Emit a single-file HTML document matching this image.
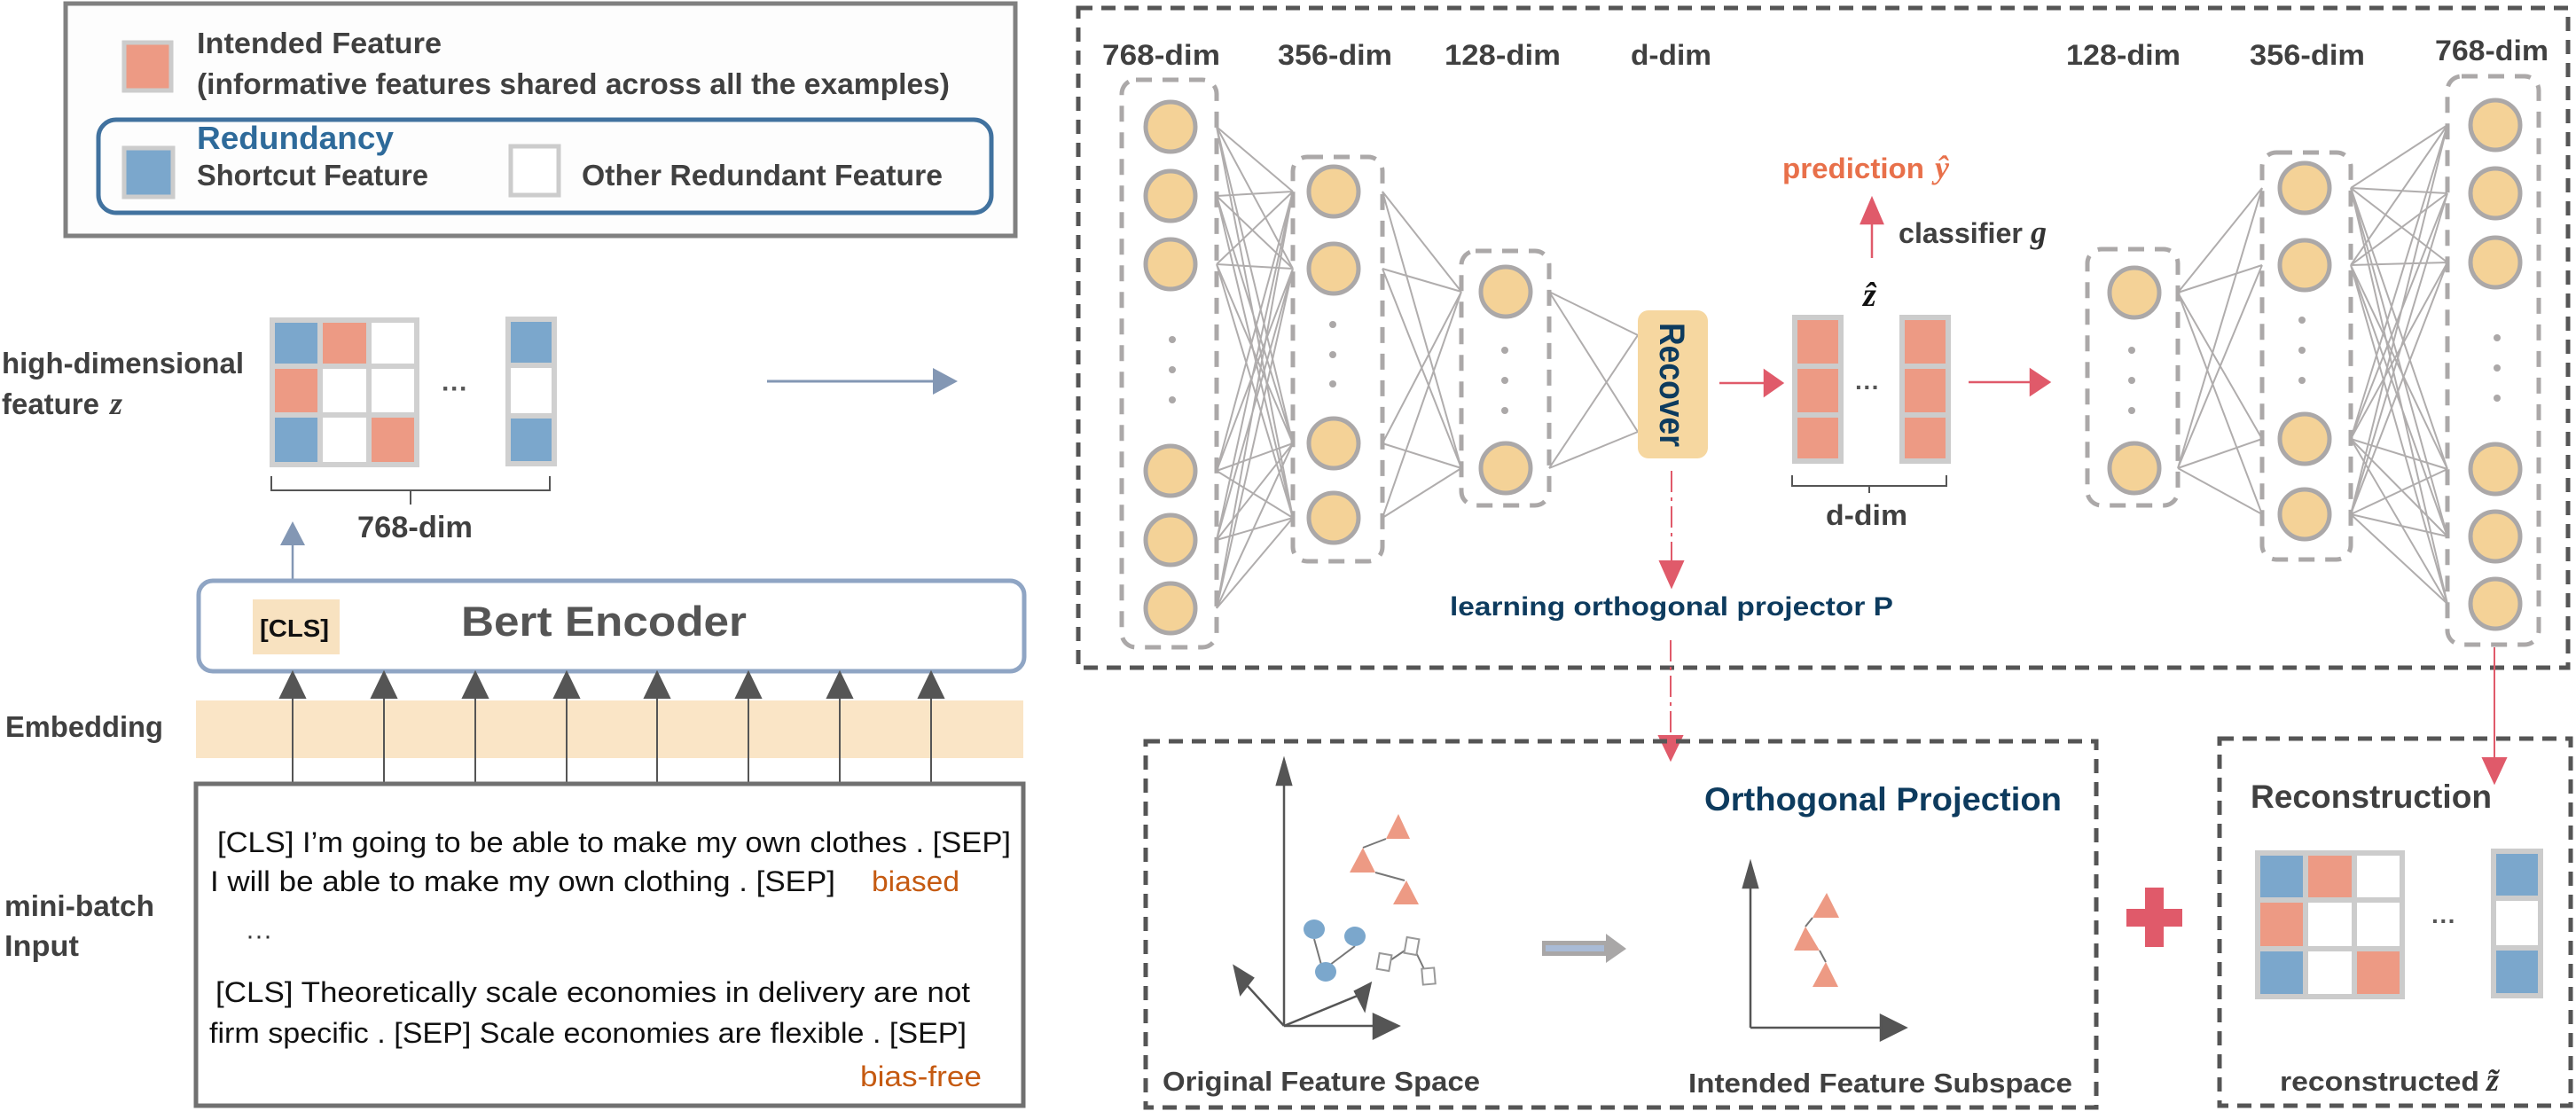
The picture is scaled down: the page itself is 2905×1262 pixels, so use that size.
<!DOCTYPE html>
<html><head><meta charset="utf-8"><style>
html,body{margin:0;padding:0;background:#fff;}
svg{display:block;}
text{font-family:"Liberation Sans",sans-serif;font-weight:bold;fill:#404040;}
</style></head><body>
<svg width="2905" height="1262" viewBox="0 0 2905 1262" xmlns="http://www.w3.org/2000/svg">

<!-- LEGEND -->
<rect x="74" y="4" width="1071" height="262" fill="#fdfdfd" stroke="#808080" stroke-width="5"/>
<rect x="140" y="48" width="53" height="54" fill="#ED9A84" stroke="#cccccc" stroke-width="5"/>
<text x="222" y="60" font-size="33" textLength="276" lengthAdjust="spacingAndGlyphs">Intended Feature</text>
<text x="222" y="106" font-size="33" textLength="849" lengthAdjust="spacingAndGlyphs">(informative features shared across all the examples)</text>
<rect x="111" y="135" width="1007" height="105" rx="20" fill="none" stroke="#41729F" stroke-width="5"/>
<text x="222" y="168" font-size="36" style="fill:#2E6A9A" textLength="222" lengthAdjust="spacingAndGlyphs">Redundancy</text>
<rect x="140" y="167" width="55" height="55" fill="#7BA7CC" stroke="#cccccc" stroke-width="5"/>
<text x="222" y="209" font-size="33" textLength="261" lengthAdjust="spacingAndGlyphs">Shortcut Feature</text>
<rect x="576" y="165" width="54" height="55" fill="#fff" stroke="#cccccc" stroke-width="5"/>
<text x="656" y="209" font-size="33" textLength="407" lengthAdjust="spacingAndGlyphs">Other Redundant Feature</text>

<!-- high-dim feature -->
<text x="2" y="421" font-size="33" textLength="273" lengthAdjust="spacingAndGlyphs">high-dimensional</text>
<text x="2" y="467" font-size="33" textLength="110" lengthAdjust="spacingAndGlyphs">feature</text>
<text x="124" y="467" font-size="36" font-style="italic" style="font-family:'Liberation Serif',serif">z</text>
<g stroke="#d0d0d0" stroke-width="6">
<rect x="307" y="361" width="54" height="52" fill="#7BA7CC"/><rect x="361" y="361" width="55" height="52" fill="#ED9A84"/><rect x="416" y="361" width="54" height="52" fill="#fff"/>
<rect x="307" y="413" width="54" height="55" fill="#ED9A84"/><rect x="361" y="413" width="55" height="55" fill="#fff"/><rect x="416" y="413" width="54" height="55" fill="#fff"/>
<rect x="307" y="468" width="54" height="56" fill="#7BA7CC"/><rect x="361" y="468" width="55" height="56" fill="#fff"/><rect x="416" y="468" width="54" height="56" fill="#ED9A84"/>
<rect x="573" y="360" width="52" height="52" fill="#7BA7CC"/><rect x="573" y="412" width="52" height="57" fill="#fff"/><rect x="573" y="469" width="52" height="54" fill="#7BA7CC"/>
</g>
<text x="498" y="448" font-size="30" style="fill:#555">···</text>
<path d="M306,537 V553 H463 V569 M463,553 H620 V537" fill="none" stroke="#555" stroke-width="2"/>
<text x="403" y="606" font-size="34" textLength="130" lengthAdjust="spacingAndGlyphs">768-dim</text>
<line x1="330" y1="667" x2="330" y2="600" stroke="#8397B4" stroke-width="2.5"/>
<path d="M316,615L330,588L344,615z" fill="#8397B4"/>
<line x1="865" y1="430" x2="1055" y2="430" stroke="#8397B4" stroke-width="3"/>
<path d="M1052,415L1080,430L1052,445z" fill="#8397B4"/>

<!-- Bert -->
<rect x="224" y="655" width="931" height="102" rx="16" fill="#fff" stroke="#8FA5C4" stroke-width="5"/>
<rect x="285" y="676" width="98" height="62" fill="#F8E2C0"/>
<text x="332" y="718" font-size="28" text-anchor="middle" style="fill:#111" textLength="78" lengthAdjust="spacingAndGlyphs">[CLS]</text>
<text x="520" y="717" font-size="47" style="fill:#555" textLength="322" lengthAdjust="spacingAndGlyphs">Bert  Encoder</text>
<text x="6" y="831" font-size="33" textLength="178" lengthAdjust="spacingAndGlyphs">Embedding</text>
<rect x="221" y="790" width="933" height="65" fill="#FAE5C6"/>
<g stroke="#555" stroke-width="2" fill="#555">
<line x1="330" y1="885" x2="330" y2="780"/><path d="M316,787L330,758L344,787z"/>
<line x1="433" y1="885" x2="433" y2="780"/><path d="M419,787L433,758L447,787z"/>
<line x1="536" y1="885" x2="536" y2="780"/><path d="M522,787L536,758L550,787z"/>
<line x1="639" y1="885" x2="639" y2="780"/><path d="M625,787L639,758L653,787z"/>
<line x1="741" y1="885" x2="741" y2="780"/><path d="M727,787L741,758L755,787z"/>
<line x1="844" y1="885" x2="844" y2="780"/><path d="M830,787L844,758L858,787z"/>
<line x1="947" y1="885" x2="947" y2="780"/><path d="M933,787L947,758L961,787z"/>
<line x1="1050" y1="885" x2="1050" y2="780"/><path d="M1036,787L1050,758L1064,787z"/>
</g>
<rect x="221" y="884" width="933" height="363" fill="none" stroke="#707070" stroke-width="5"/>
<text x="245" y="961" font-size="32" style="font-weight:normal;fill:#111" textLength="895" lengthAdjust="spacingAndGlyphs">[CLS] I’m going to be able to make my own clothes . [SEP]</text>
<text x="237" y="1005" font-size="32" style="font-weight:normal;fill:#111" textLength="705" lengthAdjust="spacingAndGlyphs">I will be able to make my own clothing . [SEP]</text>
<text x="983" y="1005" font-size="32" style="font-weight:normal;fill:#C55A11" textLength="99" lengthAdjust="spacingAndGlyphs">biased</text>
<text x="277" y="1065" font-size="30" style="font-weight:normal;fill:#333">···</text>
<text x="243" y="1130" font-size="32" style="font-weight:normal;fill:#111" textLength="851" lengthAdjust="spacingAndGlyphs">[CLS] Theoretically scale economies in delivery are not</text>
<text x="236" y="1176" font-size="32" style="font-weight:normal;fill:#111" textLength="854" lengthAdjust="spacingAndGlyphs">firm specific . [SEP] Scale economies are flexible . [SEP]</text>
<text x="970" y="1225" font-size="32" style="font-weight:normal;fill:#C55A11" textLength="137" lengthAdjust="spacingAndGlyphs">bias-free</text>
<text x="5" y="1033" font-size="33" textLength="169" lengthAdjust="spacingAndGlyphs">mini-batch</text>
<text x="5" y="1078" font-size="33" textLength="84" lengthAdjust="spacingAndGlyphs">Input</text>

<!-- NETWORK BOX -->
<rect x="1216" y="9" width="1680" height="744" fill="none" stroke="#555" stroke-width="5" stroke-dasharray="16 10"/>
<g font-size="32">
<text x="1243" y="73" textLength="133" lengthAdjust="spacingAndGlyphs">768-dim</text>
<text x="1441" y="73" textLength="129" lengthAdjust="spacingAndGlyphs">356-dim</text>
<text x="1629" y="73" textLength="131" lengthAdjust="spacingAndGlyphs">128-dim</text>
<text x="1839" y="73" textLength="91" lengthAdjust="spacingAndGlyphs">d-dim</text>
<text x="2330" y="73" textLength="129" lengthAdjust="spacingAndGlyphs">128-dim</text>
<text x="2537" y="73" textLength="130" lengthAdjust="spacingAndGlyphs">356-dim</text>
<text x="2746" y="68" textLength="128" lengthAdjust="spacingAndGlyphs">768-dim</text>
</g>
<g stroke="#b0adad" stroke-width="2" fill="none">
<path d="M1372,143L1458,216M1372,143L1458,303M1372,143L1458,500M1372,143L1458,584M1372,221L1458,216M1372,221L1458,303M1372,221L1458,500M1372,221L1458,584M1372,298L1458,216M1372,298L1458,303M1372,298L1458,500M1372,298L1458,584M1372,531L1458,216M1372,531L1458,303M1372,531L1458,500M1372,531L1458,584M1372,609L1458,216M1372,609L1458,303M1372,609L1458,500M1372,609L1458,584M1372,686L1458,216M1372,686L1458,303M1372,686L1458,500M1372,686L1458,584"/>
<path d="M1559,216L1648,329M1559,216L1648,528M1559,303L1648,329M1559,303L1648,528M1559,500L1648,329M1559,500L1648,528M1559,584L1648,329M1559,584L1648,528"/>
<path d="M1747,329L1847,378M1747,329L1847,487M1747,528L1847,378M1747,528L1847,487"/>
<path d="M2456,330L2551,212M2456,330L2551,299M2456,330L2551,495M2456,330L2551,580M2456,528L2551,212M2456,528L2551,299M2456,528L2551,495M2456,528L2551,580"/>
<path d="M2651,212L2760,141M2651,212L2760,218M2651,212L2760,296M2651,212L2760,529M2651,212L2760,605M2651,212L2760,681M2651,299L2760,141M2651,299L2760,218M2651,299L2760,296M2651,299L2760,529M2651,299L2760,605M2651,299L2760,681M2651,495L2760,141M2651,495L2760,218M2651,495L2760,296M2651,495L2760,529M2651,495L2760,605M2651,495L2760,681M2651,580L2760,141M2651,580L2760,218M2651,580L2760,296M2651,580L2760,529M2651,580L2760,605M2651,580L2760,681"/>
</g>
<g fill="none" stroke="#aba8a8" stroke-width="5" stroke-dasharray="18 12">
<rect x="1265" y="90" width="107" height="640" rx="16"/>
<rect x="1458" y="177" width="101" height="456" rx="16"/>
<rect x="1648" y="283" width="99" height="287" rx="16"/>
<rect x="2354" y="281" width="102" height="289" rx="16"/>
<rect x="2551" y="172" width="100" height="459" rx="16"/>
<rect x="2760" y="86" width="103" height="641" rx="16"/>
</g>
<g fill="#F4D297" stroke="#aba8a8" stroke-width="5">
<circle cx="1320" cy="143" r="28"/><circle cx="1320" cy="221" r="28"/><circle cx="1320" cy="298" r="28"/><circle cx="1320" cy="531" r="28"/><circle cx="1320" cy="609" r="28"/><circle cx="1320" cy="686" r="28"/>
<circle cx="1504" cy="216" r="28"/><circle cx="1504" cy="303" r="28"/><circle cx="1504" cy="500" r="28"/><circle cx="1504" cy="584" r="28"/>
<circle cx="1698" cy="329" r="28"/><circle cx="1698" cy="528" r="28"/>
<circle cx="2407" cy="330" r="28"/><circle cx="2407" cy="528" r="28"/>
<circle cx="2599" cy="212" r="28"/><circle cx="2599" cy="299" r="28"/><circle cx="2599" cy="495" r="28"/><circle cx="2599" cy="580" r="28"/>
<circle cx="2814" cy="141" r="28"/><circle cx="2814" cy="218" r="28"/><circle cx="2814" cy="296" r="28"/><circle cx="2814" cy="529" r="28"/><circle cx="2814" cy="605" r="28"/><circle cx="2814" cy="681" r="28"/>
</g>
<g fill="#aba8a8">
<circle cx="1322" cy="383" r="4"/><circle cx="1322" cy="417" r="4"/><circle cx="1322" cy="451" r="4"/>
<circle cx="1503" cy="366" r="4"/><circle cx="1503" cy="400" r="4"/><circle cx="1503" cy="433" r="4"/>
<circle cx="1697" cy="395" r="4"/><circle cx="1697" cy="429" r="4"/><circle cx="1697" cy="463" r="4"/>
<circle cx="2404" cy="395" r="4"/><circle cx="2404" cy="429" r="4"/><circle cx="2404" cy="463" r="4"/>
<circle cx="2596" cy="361" r="4"/><circle cx="2596" cy="395" r="4"/><circle cx="2596" cy="429" r="4"/>
<circle cx="2816" cy="381" r="4"/><circle cx="2816" cy="415" r="4"/><circle cx="2816" cy="449" r="4"/>
</g>
<rect x="1847" y="350" width="79" height="167" rx="12" fill="#F6D7A0"/>
<text transform="translate(1872,364) rotate(90)" font-size="40" style="fill:#0D3B5E" textLength="140" lengthAdjust="spacingAndGlyphs">Recover</text>
<g stroke="#E05A6A" stroke-width="2.5" fill="#E05A6A">
<line x1="1939" y1="432" x2="1995" y2="432"/><path d="M1990,418L2010,432L1990,446z"/>
<line x1="2220" y1="431" x2="2295" y2="431"/><path d="M2290,417L2311,431L2290,445z"/>
<line x1="2111" y1="291" x2="2111" y2="240"/><path d="M2099,252L2111,224L2123,252z"/>
</g>
<g stroke="#cccccc" stroke-width="6" fill="#ED9A84">
<rect x="2024" y="358" width="52" height="55"/><rect x="2024" y="413" width="52" height="55"/><rect x="2024" y="468" width="52" height="52"/>
<rect x="2145" y="358" width="52" height="55"/><rect x="2145" y="413" width="52" height="55"/><rect x="2145" y="468" width="52" height="52"/>
</g>
<text x="2092" y="446" font-size="28" style="fill:#555">···</text>
<text x="2101" y="345" font-size="38" font-style="italic" style="font-family:'Liberation Serif',serif;fill:#111">ẑ</text>
<path d="M2021,536V548H2108V556M2108,548H2195V536" fill="none" stroke="#555" stroke-width="2"/>
<text x="2059" y="592" font-size="32" textLength="92" lengthAdjust="spacingAndGlyphs">d-dim</text>
<text x="2141" y="274" font-size="32" textLength="140" lengthAdjust="spacingAndGlyphs">classifier</text>
<text x="2290" y="274" font-size="36" font-style="italic" style="font-family:'Liberation Serif',serif;fill:#333">g</text>
<text x="2010" y="201" font-size="32" style="fill:#E8704A" textLength="160" lengthAdjust="spacingAndGlyphs">prediction</text>
<text x="2182" y="201" font-size="36" font-style="italic" style="font-family:'Liberation Serif',serif;fill:#E8704A">ŷ</text>
<text x="1635" y="694" font-size="30" style="fill:#0D3B5E" textLength="500" lengthAdjust="spacingAndGlyphs">learning orthogonal projector P</text>
<g stroke="#E05A6A" stroke-width="2" fill="#E05A6A">
<line x1="1885" y1="531" x2="1885" y2="640" stroke-dasharray="24 6 4 6"/><path d="M1872,633L1885,662L1898,633z"/>
<line x1="1884" y1="722" x2="1884" y2="835" stroke-dasharray="24 6 4 6"/><path d="M1871,830L1884,857L1897,830z"/>
<line x1="2813" y1="730" x2="2813" y2="860"/><path d="M2800,855L2813,883L2826,855z"/>
</g>

<!-- ORTHO BOX -->
<rect x="1292" y="836" width="1072" height="413" fill="none" stroke="#555" stroke-width="5" stroke-dasharray="16 10"/>
<text x="1922" y="914" font-size="37" style="fill:#0D3B5E" textLength="403" lengthAdjust="spacingAndGlyphs">Orthogonal Projection</text>
<g stroke="#555" stroke-width="2.5" fill="#555">
<line x1="1448" y1="1157" x2="1448" y2="880"/><path d="M1440,885L1448,857L1456,885z"/>
<line x1="1448" y1="1157" x2="1552" y2="1157"/><path d="M1549,1144L1577,1157L1549,1171z"/>
<line x1="1448" y1="1157" x2="1396" y2="1100"/><path d="M1392,1090L1399,1121L1413,1103z"/>
<line x1="1448" y1="1157" x2="1538" y2="1120"/><path d="M1548,1111L1529,1115L1534,1138z" transform="rotate(-15 1540 1120)"/>
<line x1="1974" y1="1159" x2="1974" y2="995"/><path d="M1966,1001L1974,973L1982,1001z"/>
<line x1="1974" y1="1159" x2="2125" y2="1159"/><path d="M2121,1145L2149,1159L2121,1173z"/>
</g>
<g stroke="#777" stroke-width="2" fill="none">
<path d="M1563,946L1537,956M1551,984L1584,993"/>
<path d="M2044,1035L2036,1045M2052,1072L2059,1085"/>
<path d="M1482,1059L1490,1088M1528,1067L1500,1088"/>
<path d="M1593,1066L1565,1085M1593,1066L1607,1095"/>
</g>
<g fill="#ED9A84">
<path d="M1577,918L1563,946L1590,946z"/><path d="M1537,956L1522,984L1551,984z"/><path d="M1586,993L1571,1020L1600,1020z"/>
<path d="M2060,1007L2044,1035L2074,1035z"/><path d="M2036,1045L2023,1072L2052,1072z"/><path d="M2059,1085L2044,1113L2073,1113z"/>
</g>
<g fill="#7BA7CC"><ellipse cx="1482" cy="1048" rx="12" ry="11"/><ellipse cx="1528" cy="1056" rx="12" ry="11"/><ellipse cx="1495" cy="1096" rx="12" ry="11"/></g>
<g fill="#fff" stroke="#999" stroke-width="2">
<rect x="1585" y="1058" width="14" height="18" transform="rotate(10 1592 1067)"/>
<rect x="1554" y="1076" width="14" height="18" transform="rotate(10 1561 1085)"/>
<rect x="1604" y="1092" width="14" height="18" transform="rotate(-5 1611 1101)"/>
</g>
<rect x="1739" y="1061" width="75" height="17" fill="#A9A7A7"/><rect x="1743" y="1066" width="66" height="7" fill="#A9BBD6"/>
<path d="M1811,1053L1834,1070L1811,1086z" fill="#A9A7A7"/>
<text x="1311" y="1230" font-size="31" textLength="358" lengthAdjust="spacingAndGlyphs">Original Feature Space</text>
<text x="1904" y="1232" font-size="31" textLength="433" lengthAdjust="spacingAndGlyphs">Intended Feature Subspace</text>

<!-- plus -->
<rect x="2419" y="1001" width="21" height="67" fill="#E05A6A"/><rect x="2398" y="1025" width="63" height="20" fill="#E05A6A"/>

<!-- RECON BOX -->
<rect x="2503" y="833" width="396" height="414" fill="none" stroke="#555" stroke-width="5" stroke-dasharray="16 10"/>
<text x="2538" y="911" font-size="37" textLength="272" lengthAdjust="spacingAndGlyphs">Reconstruction</text>
<g stroke="#cccccc" stroke-width="6">
<rect x="2546" y="962" width="54" height="53" fill="#7BA7CC"/><rect x="2600" y="962" width="55" height="53" fill="#ED9A84"/><rect x="2655" y="962" width="54" height="53" fill="#fff"/>
<rect x="2546" y="1015" width="54" height="55" fill="#ED9A84"/><rect x="2600" y="1015" width="55" height="55" fill="#fff"/><rect x="2655" y="1015" width="54" height="55" fill="#fff"/>
<rect x="2546" y="1070" width="54" height="54" fill="#7BA7CC"/><rect x="2600" y="1070" width="55" height="54" fill="#fff"/><rect x="2655" y="1070" width="54" height="54" fill="#ED9A84"/>
<rect x="2812" y="960" width="53" height="53" fill="#7BA7CC"/><rect x="2812" y="1013" width="53" height="56" fill="#fff"/><rect x="2812" y="1069" width="53" height="54" fill="#7BA7CC"/>
</g>
<text x="2742" y="1048" font-size="28" style="fill:#555">···</text>
<text x="2571" y="1230" font-size="31" textLength="225" lengthAdjust="spacingAndGlyphs">reconstructed</text>
<text x="2804" y="1230" font-size="36" font-style="italic" style="font-family:'Liberation Serif',serif;fill:#333">z̃</text>
</svg>
</body></html>
